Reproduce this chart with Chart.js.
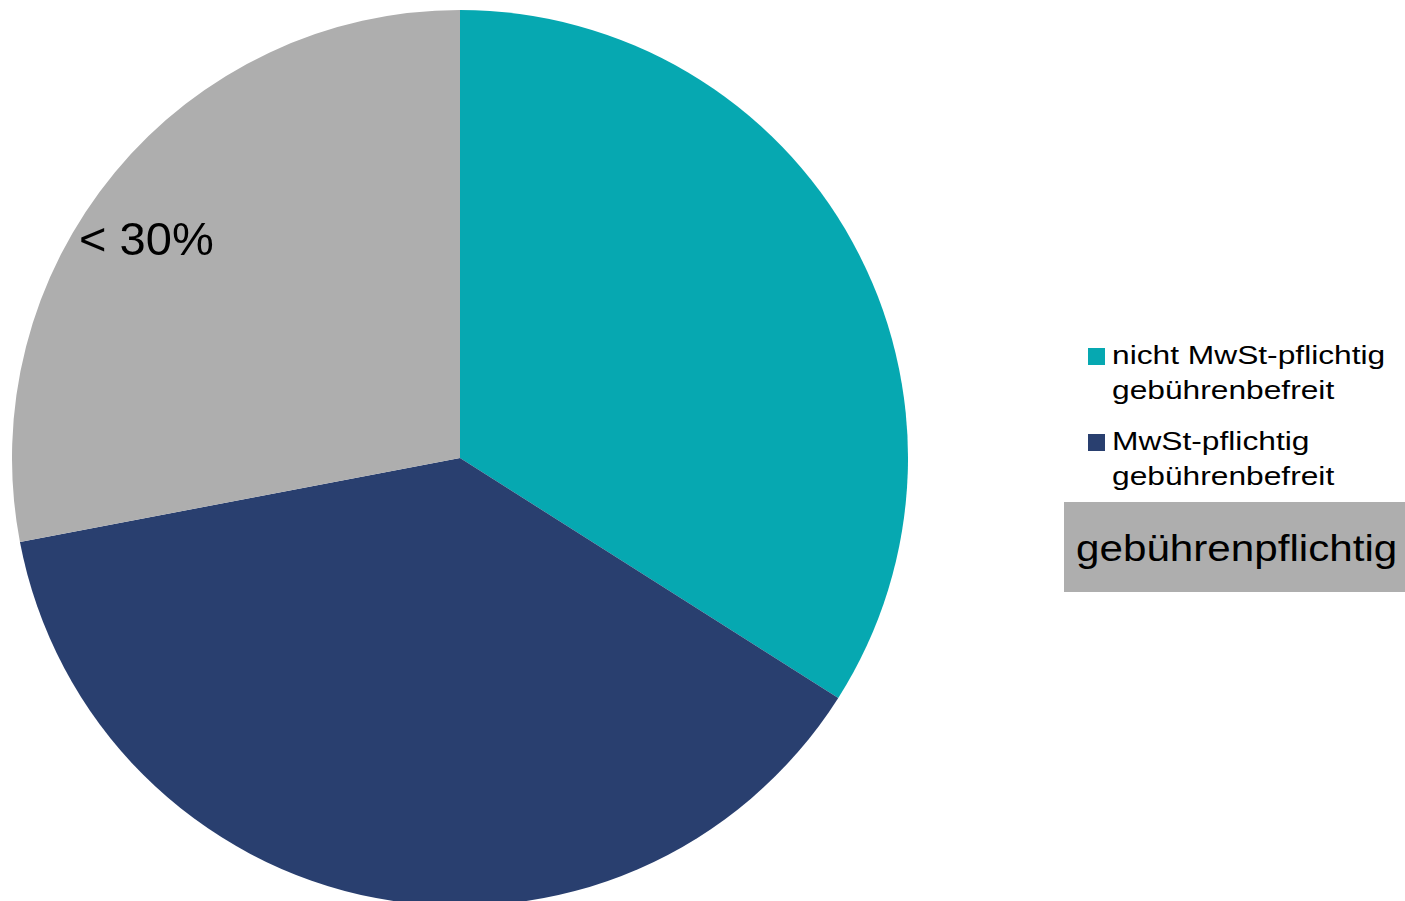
<!DOCTYPE html>
<html>
<head>
<meta charset="utf-8">
<script src="https://cdn.jsdelivr.net/npm/chart.js@4"></script>
<style>
    html, body { margin: 0; padding: 0; background: #fff; overflow: hidden; }
    body { width: 1405px; height: 901px; position: relative; font-family: "Liberation Sans", Arial, sans-serif; }
    #pieBox { position: absolute; left: 12px; top: 10px; width: 896px; height: 896px; }
    .item { position: absolute; left: 1088px; color: #000; }
    .swatch { position: absolute; left: 0; top: 3px; width: 17px; height: 17px; }
    .txt { position: absolute; left: 24px; top: -7px; font-size: 26px; line-height: 35px; white-space: nowrap;
           transform: scaleX(1.22); transform-origin: left top; }
    .boxed { position: absolute; left: 1064px; top: 502px; width: 341px; height: 90px; background: #aeaeae; }
    .boxed span { position: absolute; left: 12px; top: 27px; font-size: 37px; line-height: 40px; white-space: nowrap;
                  transform: scaleX(1.14); transform-origin: left top; }
</style>
</head>
<body>
<div id="pieBox"><canvas id="pie"></canvas></div>
<div id="legend"></div>
<script>
const labels = [
    ['nicht MwSt-pflichtig', 'gebührenbefreit'],
    ['MwSt-pflichtig', 'gebührenbefreit'],
    ['gebührenpflichtig']
];
const shares = [34, 38, 28];
const sliceLabels = ['', '', '< 30%'];
const colors = ['#06a8b1', '#293f6f', '#aeaeae'];

// legend built by hand, the last entry sits in a grey box
const legend = document.getElementById('legend');
labels.forEach((lines, i) => {
    if (i === labels.length - 1) {
        legend.innerHTML += `<div class="boxed"><span>${lines.join('<br>')}</span></div>`;
    } else {
        legend.innerHTML += `
            <div class="item" style="top:${345 + i * 86}px">
                <div class="swatch" style="background:${colors[i]}"></div>
                <div class="txt">${lines.join('<br>')}</div>
            </div>`;
    }
});

const sliceText = {
    id: 'sliceText',
    afterDatasetsDraw(chart) {
        const ctx = chart.ctx;
        const meta = chart.getDatasetMeta(0);
        ctx.save();
        ctx.font = '47px "Liberation Sans", Arial, sans-serif';
        ctx.fillStyle = '#000';
        ctx.textAlign = 'center';
        ctx.textBaseline = 'middle';
        meta.data.forEach((arc, i) => {
            if (!sliceLabels[i]) return;
            // label sits a bit below the middle of its slice
            const mid = arc.startAngle + (arc.endAngle - arc.startAngle) * 0.45;
            const r = arc.outerRadius * 0.85;
            ctx.fillText(sliceLabels[i], arc.x + Math.cos(mid) * r, arc.y + Math.sin(mid) * r);
        });
        ctx.restore();
    }
};

new Chart(document.getElementById('pie'), {
    type: 'pie',
    data: {
        labels: labels.map(l => l.join(' ')),
        datasets: [{
            data: shares,
            backgroundColor: colors,
            borderWidth: 0
        }]
    },
    options: {
        responsive: true,
        maintainAspectRatio: false,
        animation: false,
        plugins: {
            legend: { display: false },
            tooltip: { enabled: false }
        }
    },
    plugins: [sliceText]
});
</script>
</body>
</html>
